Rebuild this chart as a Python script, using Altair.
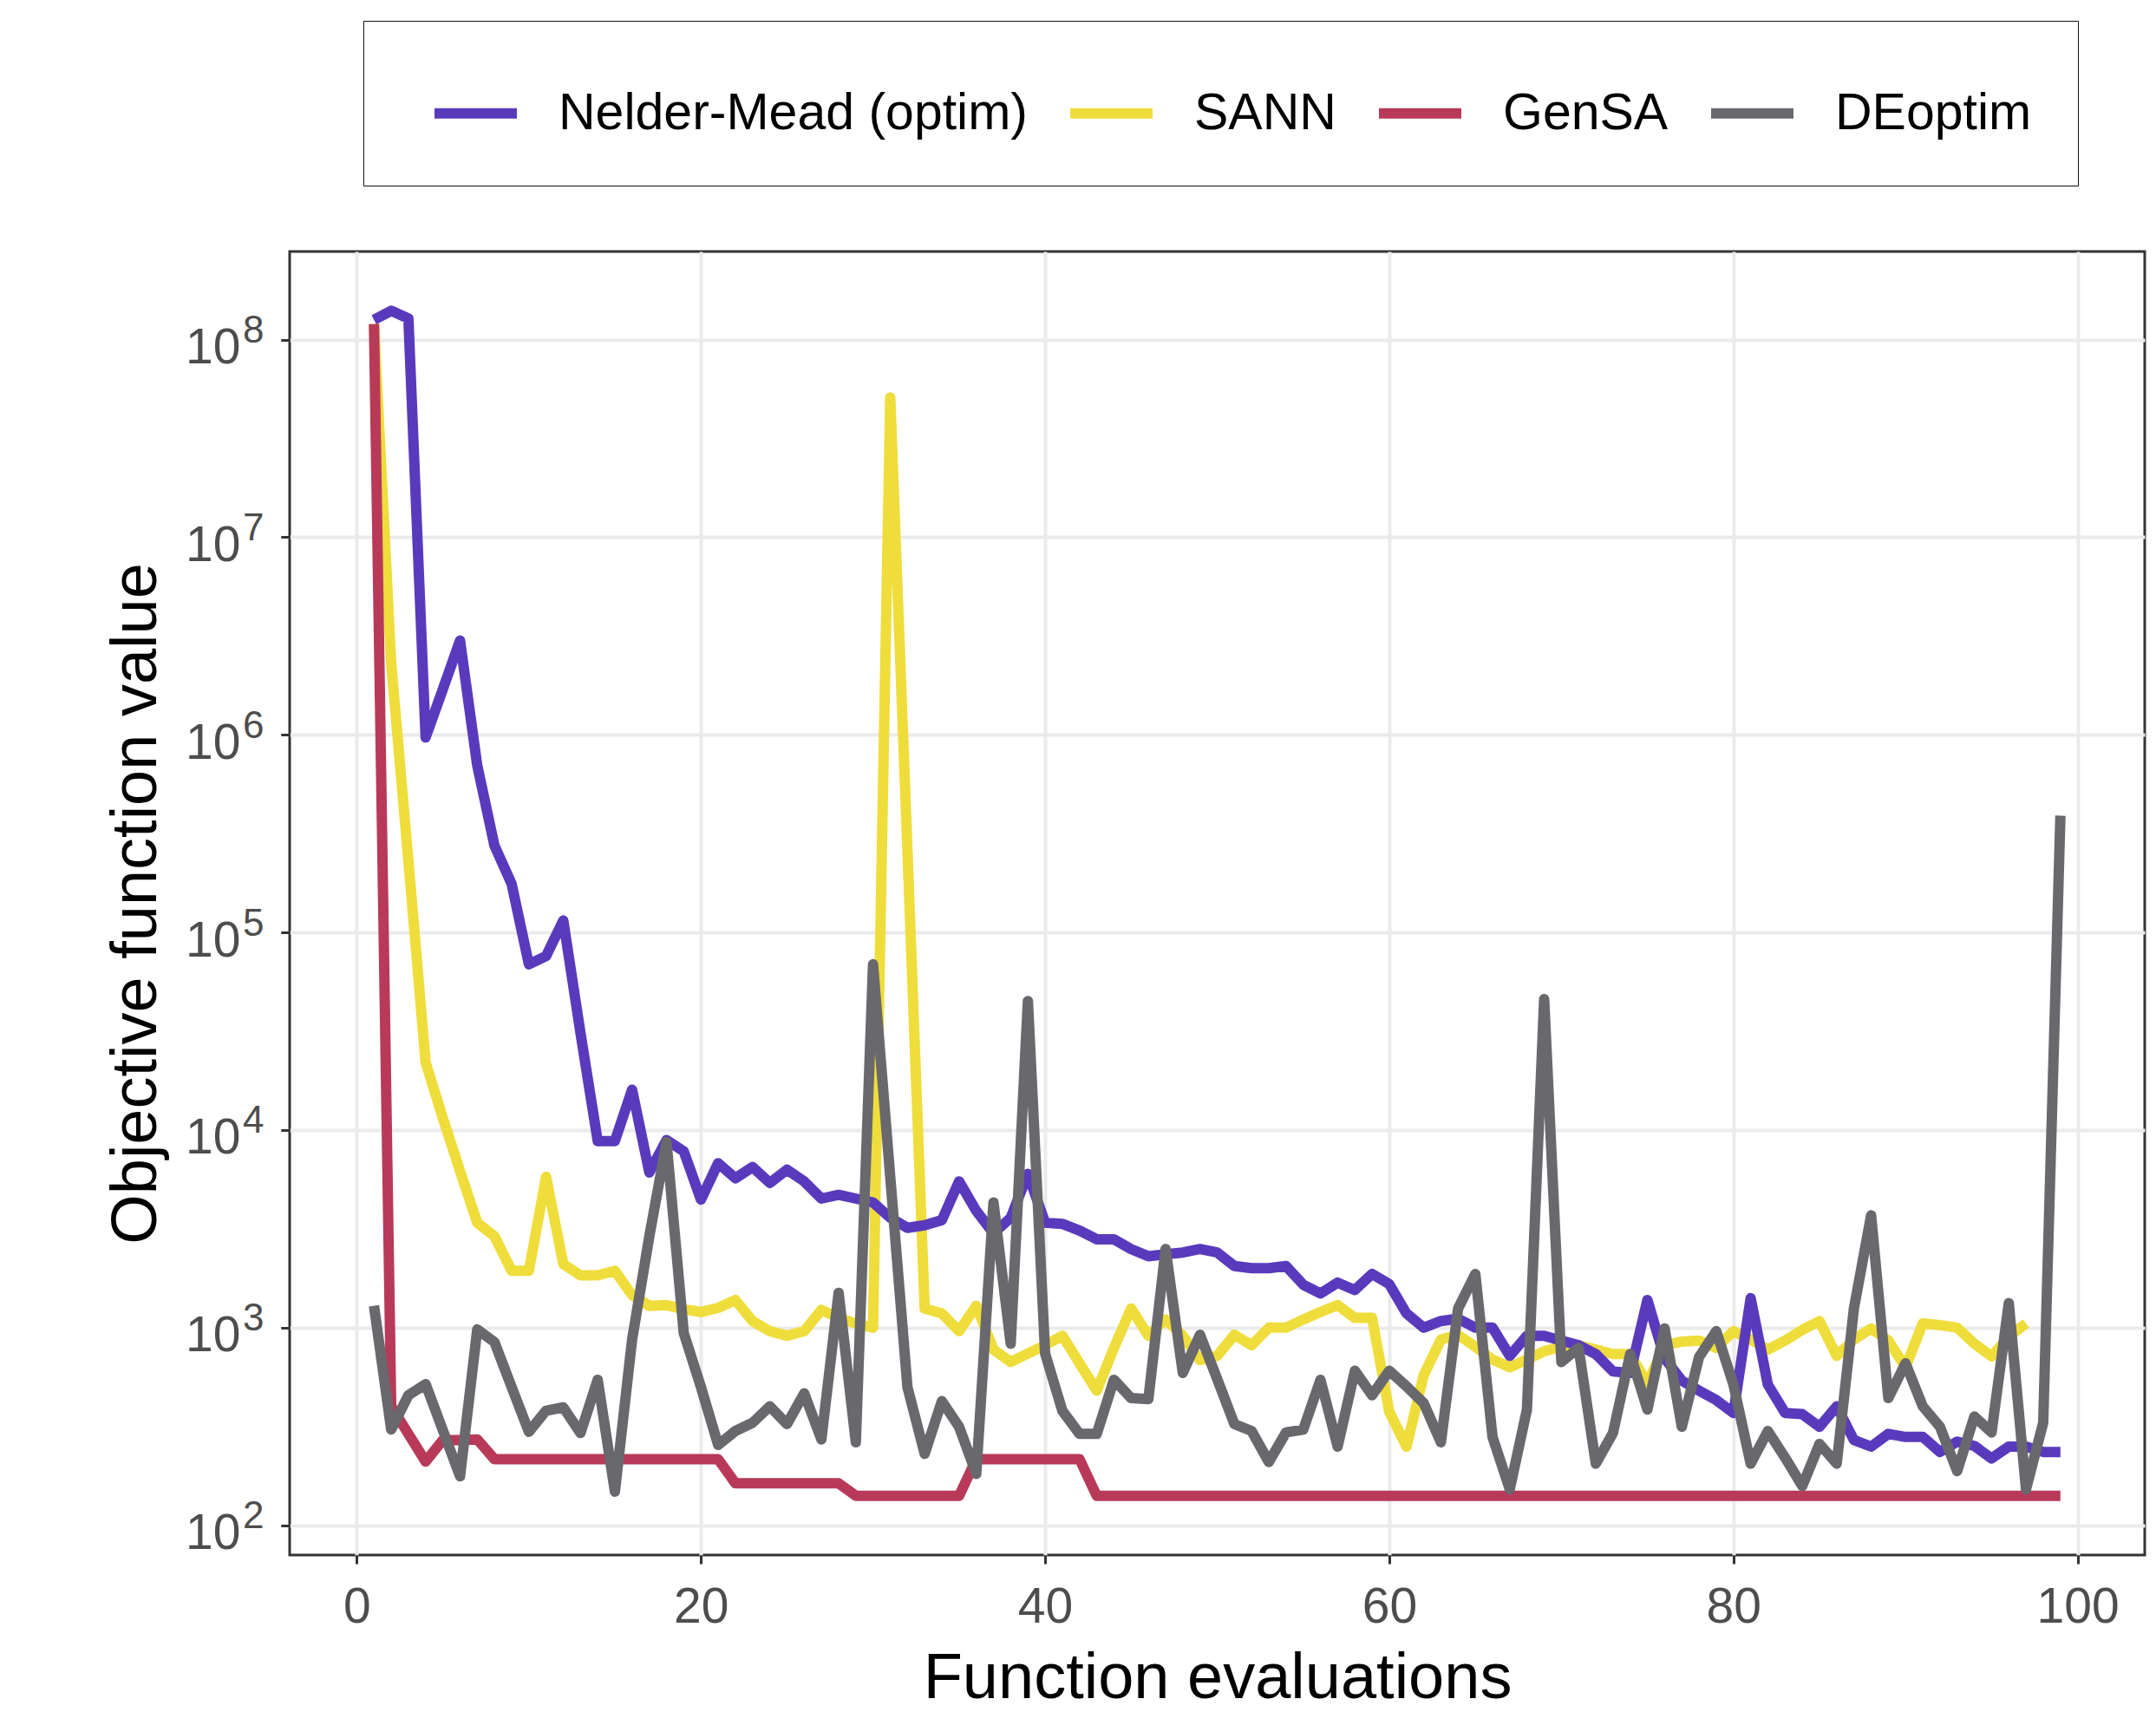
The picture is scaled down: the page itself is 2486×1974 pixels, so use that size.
import math
import altair as alt
import pandas as pd

methods = ["Nelder-Mead (optim)", "SANN", "GenSA", "DEoptim"]
colors = ["#5A3ABC", "#EFDD3B", "#B83A58", "#69686D"]

nelder_mead = [
    1.26e8, 1.4e8, 1.28e8, 9.7e5, 1.7e6, 3.0e6, 7.0e5, 2.75e5, 1.76e5, 6.9e4,
    7.6e4, 1.15e5, 3.1e4, 8.8e3, 8.8e3, 1.6e4, 6.1e3, 8.9e3, 7.8e3, 4.45e3,
    6.8e3, 5.7e3, 6.5e3, 5.4e3, 6.3e3, 5.5e3, 4.5e3, 4.7e3, 4.5e3, 4.3e3,
    3.6e3, 3.2e3, 3.3e3, 3.5e3, 5.5e3, 3.9e3, 3.0e3, 3.6e3, 6.0e3, 3.4e3,
    3.35e3, 3.1e3, 2.8e3, 2.8e3, 2.5e3, 2.3e3, 2.35e3, 2.4e3, 2.5e3, 2.4e3,
    2.05e3, 2.0e3, 2.0e3, 2.05e3, 1.65e3, 1.49e3, 1.69e3, 1.55e3, 1.87e3, 1.66e3,
    1.18e3, 1.0e3, 1.08e3, 1.11e3, 1.0e3, 1.0e3, 720, 910, 910, 860,
    815, 735, 600, 590, 1.38e3, 700, 540, 480, 430, 370,
    1.41e3, 515, 370, 365, 315, 400, 270, 250, 290, 280,
    280, 235, 265, 252, 218, 250, 250, 235, 235,
]

sann = [
    1.2e8, 2.3e6, 2.3e5, 2.2e4, 1.15e4, 6.2e3, 3.4e3, 2.9e3, 1.94e3, 1.94e3,
    5.8e3, 2.1e3, 1.84e3, 1.84e3, 1.94e3, 1.46e3, 1.29e3, 1.3e3, 1.24e3, 1.2e3,
    1.26e3, 1.38e3, 1.08e3, 960, 910, 960, 1.23e3, 1.12e3, 1.05e3, 1.0e3,
    5.1e7, 2.6e5, 1.25e3, 1.18e3, 960, 1.29e3, 775, 670, 740, 815,
    910, 660, 480, 790, 1.25e3, 910, 1.1e3, 910, 685, 720,
    920, 815, 1.0e3, 1.0e3, 1.1e3, 1.2e3, 1.3e3, 1.12e3, 1.12e3, 375,
    250, 575, 870, 920, 800, 690, 630, 690, 760, 800,
    815, 775, 735, 735, 520, 815, 850, 860, 790, 960,
    870, 775, 860, 975, 1.08e3, 720, 870, 990, 860, 630,
    1.05e3, 1.03e3, 1.0e3, 830, 715, 900, 1.05e3,
]

gensa = [
    1.2e8, 400, 290, 210, 270, 270, 272, 216, 216, 216,
    216, 216, 216, 216, 216, 216, 216, 216, 216, 216,
    216, 163, 163, 163, 163, 163, 163, 163, 141, 141,
    141, 141, 141, 141, 141, 216, 216, 216, 216, 216,
    216, 216, 141, 141, 141, 141, 141, 141, 141, 141,
    141, 141, 141, 141, 141, 141, 141, 141, 141, 141,
    141, 141, 141, 141, 141, 141, 141, 141, 141, 141,
    141, 141, 141, 141, 141, 141, 141, 141, 141, 141,
    141, 141, 141, 141, 141, 141, 141, 141, 141, 141,
    141, 141, 141, 141, 141, 141, 141, 141, 141,
]

deoptim = [
    1.29e3, 305, 455, 518, 303, 177, 980, 845, 500, 297,
    380, 395, 293, 545, 148, 870, 2.9e3, 8.7e3, 940, 500,
    255, 300, 330, 400, 325, 465, 272, 1.5e3, 263, 6.9e4,
    5.8e3, 500, 230, 425, 315, 182, 4.3e3, 830, 4.5e4, 740,
    380, 290, 290, 545, 440, 435, 2.5e3, 590, 920, 550,
    325, 300, 209, 295, 305, 545, 250, 605, 455, 605,
    505, 415, 263, 1.25e3, 1.87e3, 280, 152, 385, 4.6e4, 670,
    790, 205, 293, 735, 385, 990, 315, 710, 960, 515,
    205, 300, 220, 158, 258, 205, 1.25e3, 3.7e3, 440, 660,
    400, 315, 188, 355, 295, 1.33e3, 152, 330, 3.9e5,
]

x_ticks = [0, 20, 40, 60, 80, 100]
y_ticks = [1e2, 1e3, 1e4, 1e5, 1e6, 1e7, 1e8]

series = [nelder_mead, sann, gensa, deoptim]
rows = []
for name, vals in zip(methods, series):
    for i, v in enumerate(vals, start=1):
        rows.append({"evals": i, "value": v, "method": name})
df = pd.DataFrame(rows)

# ggplot-style 5% expansion of the data range
all_vals = nelder_mead + sann + gensa + deoptim
lo, hi = math.log10(min(all_vals)), math.log10(max(all_vals))
pad = 0.05 * (hi - lo)
ydom = [10 ** (lo - pad), 10 ** (hi + pad)]
xmin, xmax = 1, max(len(s) for s in series)
xdom = [xmin - 0.05 * (xmax - xmin), xmax + 0.05 * (xmax - xmin)]

FONT = "Liberation Sans, Arial, sans-serif"
LW = 12

color = alt.Color(
    "method:N",
    scale=alt.Scale(domain=methods, range=colors),
    sort=methods,
    title=" ",
    legend=alt.Legend(
        orient="none",
        direction="horizontal",
        legendX=85,
        legendY=-266,
        symbolType="stroke",
        symbolStrokeWidth=LW,
        symbolSize=9025,
        labelFontSize=59,
        labelFont=FONT,
        labelColor="#000000",
        labelLimit=1200,
        labelOffset=42,
        columnPadding=25,
        padding=53,
        titleOrient="left",
        titleFontSize=10,
        titlePadding=23,
        strokeColor="#111111",
        fillColor="#FFFFFF",
    ),
)

x = alt.X(
    "evals:Q",
    scale=alt.Scale(domain=xdom, nice=False, zero=False),
    axis=alt.Axis(
        values=x_ticks,
        title="Function evaluations",
        labelPadding=22,
        titleBaseline="alphabetic",
        titleY=164,
    ),
)
yscale = alt.Scale(type="log", domain=ydom, nice=False)
y = alt.Y(
    "value:Q",
    scale=yscale,
    axis=alt.Axis(
        orient="left",
        values=y_ticks,
        title="Objective function value",
        labelExpr="'10'",
        labelPadding=47,
        labelOffset=10,
        titleBaseline="alphabetic",
        titleX=-155,
    ),
)
# exponent part of the 10^k tick labels, drawn as a second left axis
y_exp = alt.Y(
    "value:Q",
    scale=yscale,
    axis=alt.Axis(
        orient="left",
        values=y_ticks,
        title=None,
        grid=False,
        labelExpr="'' + round(log(datum.value) / LN10)",
        labelFontSize=44,
        labelPadding=20,
        labelOffset=-10,
    ),
)

draw_order = ["SANN", "Nelder-Mead (optim)", "GenSA", "DEoptim"]
layers = []
for m in draw_order:
    layers.append(
        alt.Chart(df)
        .transform_filter(alt.datum.method == m)
        .mark_line(strokeWidth=LW, strokeJoin="round", strokeCap="butt")
        .encode(x=x, y=y, color=color, order="evals:Q")
    )
lines = alt.layer(*layers)

exp_layer = (
    alt.Chart(df)
    .transform_filter(alt.datum.method == "DEoptim")
    .mark_line(strokeOpacity=0)
    .encode(x=x, y=y_exp, order="evals:Q")
)

chart = (
    alt.layer(lines, exp_layer)
    .resolve_scale(y="independent")
    .resolve_axis(y="independent")
    .properties(
        width=2139,
        height=1503,
        autosize=alt.AutoSizeParams(type="none"),
        padding={"left": 334, "top": 290, "right": 13, "bottom": 181},
        background="#FFFFFF",
    )
    .configure_view(stroke="#333333", strokeWidth=3)
    .configure_axis(
        domain=False,
        grid=True,
        gridColor="#EBEBEB",
        gridWidth=4,
        tickColor="#333333",
        tickWidth=3,
        tickSize=10,
        labelFont=FONT,
        labelFontSize=57,
        labelColor="#4D4D4D",
        titleFont=FONT,
        titleFontSize=74,
        titleFontWeight="normal",
        titleColor="#000000",
    )
)

chart.save("out.html", embed_options={"renderer": "svg", "actions": False})
